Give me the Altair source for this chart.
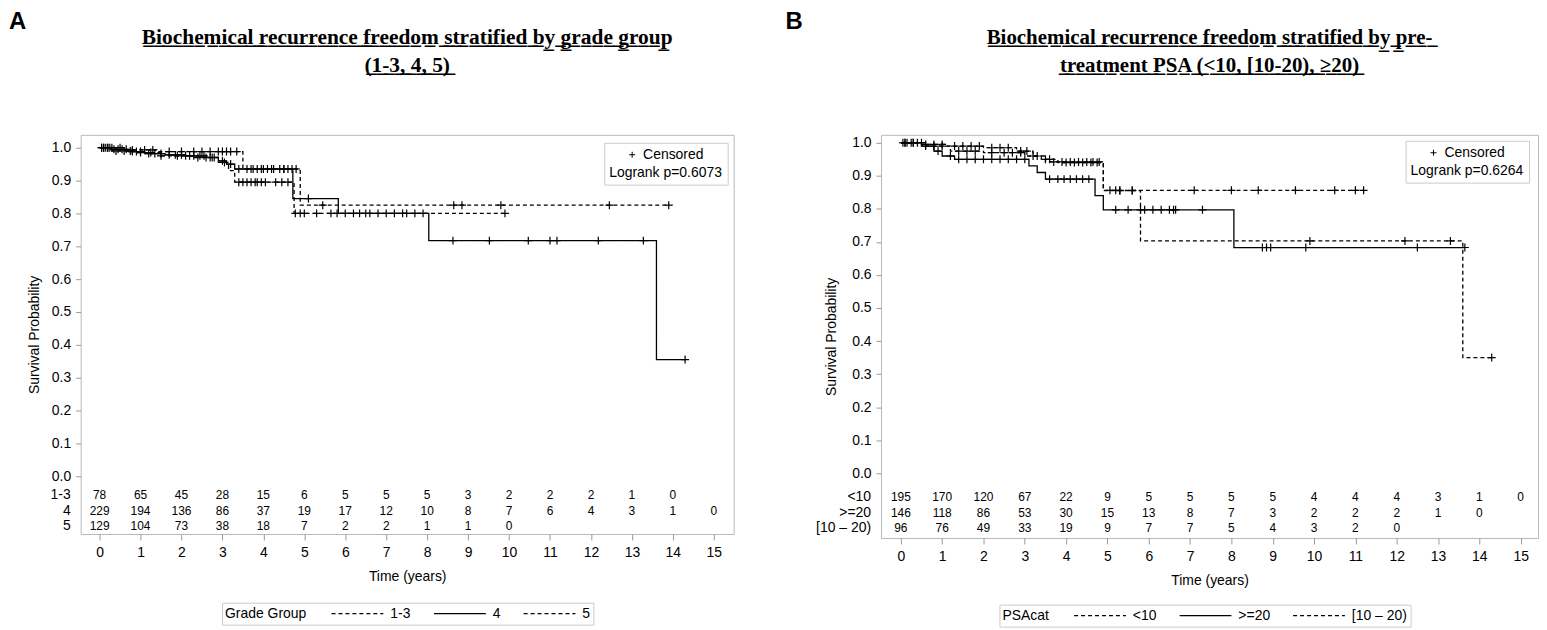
import altair as alt
import pandas as pd

SANS = "Liberation Sans"
SERIF = "Liberation Serif"
FRAME = "#b8b8b8"

YEARS = list(range(16))

# ---------------- Panel A : grade group ----------------
A_GROUPS = ["1-3", "4", "5"]
A_STEP_T = {
    "1-3": [0, 0.6, 1.4, 3.5, 4.9],
    "4": [0, 0.3, 0.7, 1.1, 1.6, 2.1, 2.6, 2.9, 3.1, 3.3, 4.72, 5.83, 8.04, 13.6],
    "5": [0, 0.3, 0.9, 1.5, 2.3, 2.9, 3.15, 3.3, 4.75],
}
A_STEP_S = {
    "1-3": [1.0, 0.993, 0.988, 0.935, 0.825],
    "4": [1.0, 0.995, 0.988, 0.982, 0.978, 0.975, 0.97, 0.96, 0.95, 0.935, 0.845, 0.80, 0.717, 0.355],
    "5": [1.0, 0.99, 0.985, 0.975, 0.97, 0.955, 0.93, 0.895, 0.80],
}
A_END = {"1-3": 13.9, "4": 14.3, "5": 9.9}
A_CENS = {
    "1-3": [0.05, 0.15, 0.3, 0.5, 0.8, 1.1, 1.3, 1.7, 2.0, 2.3, 2.5, 2.7, 2.9, 3.0, 3.1, 3.2,
            3.35, 3.75, 4.0, 4.2, 4.5, 4.7, 4.8, 5.45, 8.65, 8.85, 9.8, 12.45, 13.9],
    "4": [0.05, 0.1, 0.2, 0.25, 0.35, 0.45, 0.55, 0.65, 0.8, 0.9, 1.0, 1.2, 1.35, 1.5, 1.7,
          1.85, 2.0, 2.2, 2.3, 2.45, 2.55, 2.7, 2.8, 3.0, 3.2, 3.4, 3.6, 3.7, 3.85, 3.95, 4.1,
          4.25, 4.4, 4.5, 4.6, 5.1, 6.0, 6.35, 6.6, 7.0, 7.4, 7.9, 8.63, 9.52, 10.47, 11.0,
          11.17, 12.18, 13.28, 14.3],
    "5": [0.1, 0.2, 0.4, 0.6, 0.75, 1.0, 1.25, 1.5, 1.9, 2.1, 2.4, 2.6, 2.75, 3.05, 3.4, 3.5,
          3.6, 3.7, 3.8, 3.85, 3.95, 4.05, 4.3, 4.45, 4.6, 4.78, 4.9, 5.0, 5.3, 5.65, 5.8, 6.2,
          6.5, 6.8, 7.2, 7.5, 7.7, 9.9],
}
A_RISK = {
    "1-3": [78, 65, 45, 28, 15, 6, 5, 5, 5, 3, 2, 2, 2, 1, 0],
    "4": [229, 194, 136, 86, 37, 19, 17, 12, 10, 8, 7, 6, 4, 3, 1, 0],
    "5": [129, 104, 73, 38, 18, 7, 2, 2, 1, 1, 0],
}
A_DASH = [[4, 3], [1, 0], [4, 3]]
A_TITLE = ["Biochemical recurrence freedom stratified by grade group", "(1-3, 4, 5)"]
A_LEGEND_TITLE = "Grade Group"
A_P = "Logrank p=0.6073"

# ---------------- Panel B : pre-treatment PSA ----------------
B_GROUPS = ["<10", ">=20", "[10 \u2013 20)"]
B_STEP_T = {
    "<10": [0, 0.5, 1.1, 2.0, 2.8, 3.2, 3.5, 4.9, 5.8, 13.6],
    ">=20": [0, 0.5, 0.8, 1.0, 1.3, 3.1, 3.3, 3.5, 4.7, 4.9, 8.06],
    "[10 \u2013 20)": [0, 0.6, 1.2, 2.0, 3.0, 3.4, 3.8, 4.9],
}
B_STEP_S = {
    "<10": [1.0, 0.995, 0.99, 0.985, 0.975, 0.96, 0.942, 0.855, 0.703, 0.35],
    ">=20": [1.0, 0.99, 0.975, 0.96, 0.95, 0.93, 0.91, 0.89, 0.84, 0.797, 0.683],
    "[10 \u2013 20)": [1.0, 0.99, 0.975, 0.97, 0.96, 0.95, 0.94, 0.856],
}
B_END = {"<10": 14.3, ">=20": 13.65, "[10 \u2013 20)": 11.2}
B_CENS = {
    "<10": [0.05, 0.15, 0.25, 0.4, 0.6, 0.8, 1.0, 1.3, 1.5, 1.7, 1.9, 2.2, 2.4, 2.6, 2.9, 3.05,
            3.3, 3.7, 3.9, 4.1, 4.3, 4.5, 4.65, 4.8, 5.3, 5.6, 9.9, 12.2, 13.3, 14.3],
    ">=20": [0.1, 0.3, 0.6, 0.9, 1.2, 1.4, 1.6, 1.8, 2.0, 2.2, 2.4, 2.6, 2.8, 3.0, 3.6, 3.8,
             3.95, 4.1, 4.25, 4.4, 4.55, 5.2, 5.5, 5.8, 5.9, 6.1, 6.3, 6.5, 6.6, 6.65, 7.3,
             8.75, 8.85, 8.95, 9.8, 12.5, 13.65],
    "[10 \u2013 20)": [0.1, 0.3, 0.5, 0.8, 1.0, 1.4, 1.6, 1.8, 2.2, 2.5, 2.7, 2.9, 3.2, 3.5, 3.6,
                       4.0, 4.2, 4.4, 4.6, 4.75, 5.06, 5.2, 5.3, 5.6, 7.1, 8.0, 8.65, 9.55,
                       10.5, 11.0, 11.2],
}
B_RISK = {
    "<10": [195, 170, 120, 67, 22, 9, 5, 5, 5, 5, 4, 4, 4, 3, 1, 0],
    ">=20": [146, 118, 86, 53, 30, 15, 13, 8, 7, 3, 2, 2, 2, 1, 0],
    "[10 \u2013 20)": [96, 76, 49, 33, 19, 9, 7, 7, 5, 4, 3, 2, 0],
}
B_DASH = [[4, 3], [1, 0], [4, 3]]
B_TITLE = ["Biochemical recurrence freedom stratified by pre-",
           "treatment PSA (<10, [10-20), \u226520)"]
B_LEGEND_TITLE = "PSAcat"
B_P = "Logrank p=0.6264"

# layout (pixels / axis-domain settings, not data)
GEOM_A = dict(width=656, height=401, xdom=[-0.462, 15.486], ydom=[-0.176, 1.039],
              rows=[-0.058, -0.106, -0.152], legend_x=214, legend_y=470,
              cens_x=598, cens_y=8, title_offset=59, ytitle_pad=10, title_size=21.5)
GEOM_B = dict(width=660, height=405, xdom=[-0.48, 15.42], ydom=[-0.196, 1.024],
              rows=[-0.072, -0.120, -0.166], legend_x=215, legend_y=472,
              cens_x=623, cens_y=6, title_offset=59, ytitle_pad=13, title_size=21)
LETTER_OFFSET = 96

PLUS = "M-1,0L1,0M0,-1L0,1"


def underline(s):
    return "".join(c + "\u0332" for c in s)


def surv_at(T, S, t):
    val = S[0]
    for ti, si in zip(T, S):
        if ti <= t:
            val = si
    return val


def panel(groups, T, S, END, CENS, RISK, dashes, title, leg_title, ptext, g):
    step_rows = []
    for grp in groups:
        for t, s in zip(T[grp], S[grp]):
            step_rows.append({"g": grp, "t": t, "s": s})
        step_rows.append({"g": grp, "t": END[grp], "s": S[grp][-1]})
    steps = pd.DataFrame(step_rows)

    cens = pd.DataFrame([{"g": grp, "t": t, "s": surv_at(T[grp], S[grp], t), "c": "Censored"}
                         for grp in groups for t in CENS[grp]])

    risk = pd.DataFrame([{"g": grp, "t": YEARS[i], "s": g["rows"][k], "n": str(n)}
                         for k, grp in enumerate(groups) for i, n in enumerate(RISK[grp])])
    rlab = pd.DataFrame([{"g": grp, "t": g["xdom"][0], "s": g["rows"][k]}
                         for k, grp in enumerate(groups)])

    x = alt.X("t:Q", scale=alt.Scale(domain=g["xdom"], nice=False, zero=False),
              axis=alt.Axis(values=YEARS, title="Time (years)", tickSize=6, labelPadding=6,
                            titlePadding=10, format="d"))
    y = alt.Y("s:Q", scale=alt.Scale(domain=g["ydom"], nice=False, zero=False),
              axis=alt.Axis(values=[i / 10 for i in range(11)], format=".1f",
                            title="Survival Probability", tickSize=5, labelPadding=5,
                            titlePadding=g["ytitle_pad"]))

    lines = alt.Chart(steps).mark_line(interpolate="step-after", color="black",
                                        strokeWidth=1.3).encode(
        x=x, y=y,
        strokeDash=alt.StrokeDash(
            "g:N", scale=alt.Scale(domain=groups, range=dashes),
            legend=alt.Legend(title=leg_title, orient="none", legendX=g["legend_x"],
                              legendY=g["legend_y"], direction="horizontal",
                              titleOrient="left", symbolType="stroke", symbolSize=2704,
                              symbolStrokeWidth=1.4, symbolStrokeColor="black",
                              strokeColor="#cccccc", padding=3, labelFontSize=14,
                              titleFontSize=14, titleFontWeight="normal", labelFont=SANS,
                              titleFont=SANS, columnPadding=22, labelOffset=6,
                              titlePadding=24, clipHeight=16, labelColor="black",
                              titleColor="black")),
    )

    points = alt.Chart(cens).mark_point(shape=PLUS, filled=False, color="black",
                                        strokeWidth=1.2, size=64, opacity=1).encode(
        x=x, y=y,
        shape=alt.Shape("c:N", scale=alt.Scale(domain=["Censored"], range=[PLUS]),
                        legend=alt.Legend(title=ptext, orient="none", legendX=g["cens_x"],
                                          legendY=g["cens_y"],
                                          titleOrient="bottom", titleFontWeight="normal",
                                          titleFontSize=14, labelFontSize=14,
                                          titleFont=SANS, labelFont=SANS,
                                          strokeColor="#cccccc", padding=5, titlePadding=4,
                                          symbolStrokeColor="black", symbolStrokeWidth=1,
                                          symbolSize=36, symbolFillColor="transparent",
                                          symbolOffset=16, labelOffset=4,
                                          labelColor="black", titleColor="black")),
    )

    counts = alt.Chart(risk).mark_text(font=SANS, fontSize=12, color="black").encode(
        x=x, y=y, text="n:N")

    labels = alt.Chart(rlab).mark_text(font=SANS, fontSize=14, color="black", align="right",
                                       dx=-10).encode(x=x, y=y, text="g:N")

    return alt.layer(lines, points, counts, labels).properties(
        width=g["width"], height=g["height"],
        title=alt.TitleParams(text=[underline(t) for t in title], font=SERIF,
                              fontSize=g["title_size"], fontWeight="bold", lineHeight=28,
                              color="black", anchor="middle", offset=g["title_offset"]))


def letter(ch):
    return alt.Chart(pd.DataFrame({"c": [ch]})).mark_text(opacity=0).encode(
        text="c:N").properties(
        width=16, height=1, view=alt.ViewBackground(stroke="transparent"),
        title=alt.TitleParams(text=ch, font=SANS, fontSize=24, fontWeight="bold",
                              color="black", anchor="start", offset=LETTER_OFFSET))


panel_a = panel(A_GROUPS, A_STEP_T, A_STEP_S, A_END, A_CENS, A_RISK, A_DASH, A_TITLE,
                A_LEGEND_TITLE, A_P, GEOM_A)
panel_b = panel(B_GROUPS, B_STEP_T, B_STEP_S, B_END, B_CENS, B_RISK, B_DASH, B_TITLE,
                B_LEGEND_TITLE, B_P, GEOM_B)

chart = alt.hconcat(
    alt.hconcat(letter("A"), panel_a, spacing=0),
    alt.hconcat(letter("B"), panel_b, spacing=12),
    spacing=50,
).resolve_scale(
    strokeDash="independent", shape="independent",
).resolve_legend(
    strokeDash="independent", shape="independent",
).properties(
    padding={"left": 0, "top": 0, "right": 0, "bottom": 0},
).configure_view(
    stroke=FRAME, strokeWidth=1,
).configure_axis(
    domain=False, grid=False, labelFont=SANS, titleFont=SANS, labelFontSize=14,
    titleFontSize=14, titleFontWeight="normal", labelColor="black", titleColor="black",
    tickColor="#999999",
)

chart.save("out.html", embed_options={"renderer": "svg", "actions": False})
